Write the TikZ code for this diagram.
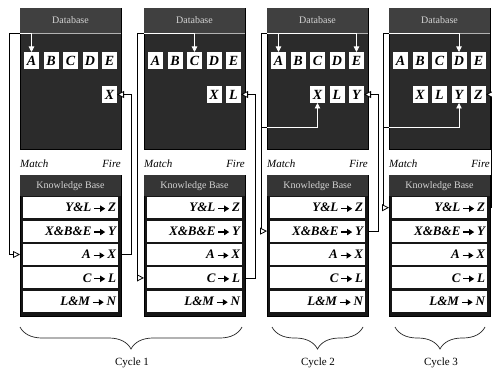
\documentclass[tikz,border=0pt]{standalone}
\usepackage{fontspec}
\setmainfont{Liberation Serif}
\usetikzlibrary{arrows.meta,decorations.pathreplacing,calc}
\definecolor{dbfill}{HTML}{2B2B2B}
\definecolor{dbhead}{HTML}{404040}
\definecolor{kbfill}{HTML}{161616}
\definecolor{kbhead}{HTML}{353535}
\definecolor{headtext}{HTML}{D4D4D4}
\newcommand\rarw{\,\tikz[x=1pt,y=1pt,baseline=-3.3pt]\draw[line width=1.3pt,-{Triangle[length=5pt,width=6pt]}] (0,0)--(11,0);\,}
\newcommand\drawpanel[3]{%
  \node[dbbox, anchor=north west] (#1db) at (#2,8) {};
  \fill[dbhead] ({#2+0.4},8.4) rectangle ({#2+100.6},33);
  \draw[sepline] ({#2+0.4},33) -- ({#2+100.6},33);
  \node[headtxt] (#1dbh) at ({#2+50.5},20.5) {Database};
  \foreach \lett [count=\ii from 0] in {A,B,C,D,E}
    \node[cell] (#1\lett) at ({#2+11.5+\ii*19.5},60.5) {\lett};
  \foreach \col/\lett in {#3}
    \node[cell] (#1\lett) at ({#2+11.5+\col*19.5},94.5) {\lett};
  \node[lbl, anchor=west] (#1match) at (#2,164) {Match};
  \node[lbl, anchor=east] (#1fire) at ({#2+101},164) {Fire};
  \node[kbbox, anchor=north west] (#1kb) at (#2,175) {};
  \fill[kbhead] ({#2+0.4},175.4) rectangle ({#2+100.6},196);
  \node[headtxt] (#1kbh) at ({#2+50.5},186) {Knowledge Base};
  \node[rulerow] (#1r1) at ({#2+50.5},207.7) {Y\&L\rarw Z};
  \node[rulerow] (#1r2) at ({#2+50.5},231.1) {X\&B\&E\rarw Y};
  \node[rulerow] (#1r3) at ({#2+50.5},254.5) {A\rarw X};
  \node[rulerow] (#1r4) at ({#2+50.5},277.9) {C\rarw L};
  \node[rulerow] (#1r5) at ({#2+50.5},301.3) {L\&M\rarw N};
}
\tikzset{
  opentip/.tip={Triangle[length=7pt,width=7pt,fill=white]},
  whitetip/.tip={Triangle[length=5.5pt,width=5.5pt]},
}
\begin{document}
\begin{tikzpicture}[x=1pt,y=-1pt,
  dbbox/.style={draw=black, line width=0.8pt, fill=dbfill, minimum width=101pt, minimum height=141pt, inner sep=0pt, outer sep=0pt},
  kbbox/.style={draw=black, line width=0.8pt, fill=kbfill, minimum width=101pt, minimum height=141pt, inner sep=0pt, outer sep=0pt},
  sepline/.style={draw=gray!60, line width=0.5pt},
  headtxt/.style={text=headtext, font=\fontsize{10}{10}\selectfont, inner sep=0pt},
  cell/.style={fill=white, minimum width=15pt, minimum height=17pt, inner sep=0pt, outer sep=0pt, font=\fontsize{14}{14}\selectfont\bfseries\itshape},
  rulerow/.style={fill=white, minimum height=21pt, text width=91pt, inner xsep=2pt, inner ysep=0pt, outer sep=0pt, align=right, font=\fontsize{13}{13}\selectfont\bfseries\itshape},
  lbl/.style={font=\fontsize{11}{11}\selectfont\itshape, inner sep=0pt},
  wire/.style={line width=0.8pt, draw=black},
  inwire/.style={line width=0.8pt, draw=white},
  brc/.style={decorate, decoration={brace, mirror, amplitude=22pt}, line width=0.7pt, draw=black!85},
  cyc/.style={font=\fontsize{11}{11}\selectfont, inner sep=0pt},
]
\useasboundingbox (0,0) rectangle (492,377);
\fill[white] (0,0) rectangle (492,377);

\drawpanel{p1}{20}{4/X}
\drawpanel{p2}{144}{3/X,4/L}
\drawpanel{p3}{267}{2/X,3/L,4/Y}
\drawpanel{p4}{389}{1/X,2/L,3/Y,4/Z}

% ---------- Cycle 1, panel 1
\coordinate (p1mt) at (9,33);
\coordinate (p1ft) at (131,33);
\draw[wire, -{opentip}] (p1db.west |- p1mt) -- (p1mt) -- (p1mt |- p1r3) -- (p1kb.west |- p1r3);
\draw[inwire, -{whitetip}] (p1db.west |- p1mt) -| (p1A.north);
\draw[wire, -{opentip}] (p1kb.east |- p1r3) -- (p1ft |- p1r3) -- (p1ft |- p1X) -- (p1X.east);

% ---------- panel 2
\coordinate (p2mt) at (137,33);
\coordinate (p2ft) at (255,33);
\draw[wire, -{opentip}] (p2db.west |- p2mt) -- (p2mt) -- (p2mt |- p2r4) -- (p2kb.west |- p2r4);
\draw[inwire, -{whitetip}] (p2db.west |- p2mt) -| (p2C.north);
\draw[wire, -{opentip}] (p2kb.east |- p2r4) -- (p2ft |- p2r4) -- (p2ft |- p2L) -- (p2L.east);

% ---------- panel 3
\coordinate (p3mt) at (261,33);
\coordinate (p3mb) at (261,127);
\coordinate (p3ft) at (378,33);
\draw[wire, -{opentip}] (p3db.west |- p3mt) -- (p3mt) -- (p3mt |- p3r2) -- (p3kb.west |- p3r2);
\draw[wire] (p3mb) -- (p3db.west |- p3mb);
\draw[inwire, -{whitetip}] (p3db.west |- p3mt) -| (p3E.north);
\draw[inwire, -{whitetip}] (p3A |- p3mt) -- (p3A.north);
\draw[inwire, -{whitetip}] (p3db.west |- p3mb) -| (p3X.south);
\draw[wire, -{opentip}] (p3kb.east |- p3r2) -- (p3ft |- p3r2) -- (p3ft |- p3Y) -- (p3Y.east);

% ---------- panel 4
\coordinate (p4mt) at (383,33);
\coordinate (p4mb) at (383,127);
\coordinate (p4ft) at (491.6,33);
\draw[wire, -{opentip}] (p4db.west |- p4mt) -- (p4mt) -- (p4mt |- p4r1) -- (p4kb.west |- p4r1);
\draw[wire] (p4mb) -- (p4db.west |- p4mb);
\draw[inwire, -{whitetip}] (p4db.west |- p4mt) -| (p4D.north);
\draw[inwire, -{whitetip}] (p4db.west |- p4mb) -| (p4Y.south);
\draw[wire, -{opentip}] (p4kb.east |- p4r1) -- (p4ft |- p4r1) -- (p4ft |- p4Z) -- (p4Z.east);

% ---------- braces and cycle labels
\coordinate (b1l) at (20,327);  \coordinate (b1r) at (242,327);
\coordinate (b2l) at (272,327); \coordinate (b2r) at (363,327);
\coordinate (b3l) at (395,327); \coordinate (b3r) at (485,327);
\draw[brc] (b1l) -- (b1r);
\draw[brc] (b2l) -- (b2r);
\draw[brc] (b3l) -- (b3r);
\node[cyc] (cy1) at (132,363) {Cycle 1};
\node[cyc] (cy2) at (318,363) {Cycle 2};
\node[cyc] (cy3) at (441,363) {Cycle 3};
\end{tikzpicture}
\end{document}
